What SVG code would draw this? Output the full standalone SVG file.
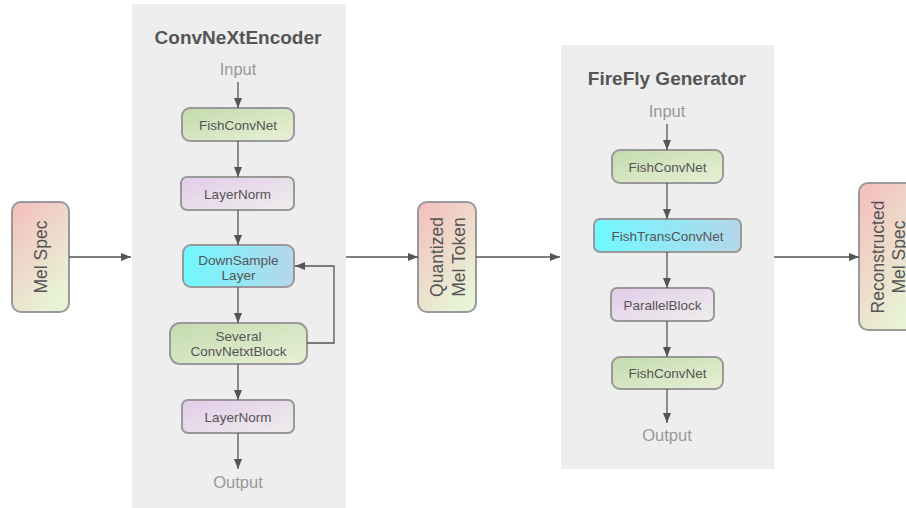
<svg xmlns="http://www.w3.org/2000/svg" width="906" height="508" viewBox="0 0 906 508">
<defs>
<linearGradient id="gGreen" x1="0" y1="0" x2="1" y2="1"><stop offset="0" stop-color="#c3dbae"/><stop offset="1" stop-color="#e8f0d6"/></linearGradient>
<linearGradient id="gPurple" x1="0" y1="0" x2="1" y2="1"><stop offset="0" stop-color="#e3cbea"/><stop offset="1" stop-color="#eeeeec"/></linearGradient>
<linearGradient id="gCyan" x1="0" y1="0" x2="1" y2="0"><stop offset="0" stop-color="#6ff8ff"/><stop offset="1" stop-color="#b5d7ea"/></linearGradient>
<linearGradient id="gPink" x1="0" y1="0" x2="0.6" y2="1"><stop offset="0" stop-color="#f4bdbd"/><stop offset="1" stop-color="#e8f3d6"/></linearGradient>
<marker id="arr" markerUnits="userSpaceOnUse" markerWidth="11" markerHeight="10" refX="10" refY="5" orient="auto"><path d="M0,1 L10,5 L0,9 z" fill="#555"/></marker>
</defs>
<style>
.panel{fill:#eeeeee}
.box{stroke:#999;stroke-width:2}
.t{font-family:"Liberation Sans",Arial,sans-serif;font-size:13.5px;fill:#555;text-anchor:middle}
.big{font-family:"Liberation Sans",Arial,sans-serif;font-size:17.5px;fill:#555;text-anchor:middle}
.io{font-family:"Liberation Sans",Arial,sans-serif;font-size:16.5px;fill:#999;text-anchor:middle}
.title{font-family:"Liberation Sans",Arial,sans-serif;font-size:19px;font-weight:bold;fill:#555;text-anchor:middle}
.c{fill:none;stroke:#555;stroke-width:1.3;marker-end:url(#arr)}
</style>
<rect width="906" height="508" fill="#ffffff"/>
<g id="encoder">
<rect class="panel" x="132" y="4" width="214" height="506"/>
<text class="title" x="238" y="44">ConvNeXtEncoder</text>
<text class="io" x="238" y="75">Input</text>
<text class="io" x="238" y="488">Output</text>
</g>
<g id="generator">
<rect class="panel" x="561" y="45" width="213" height="424"/>
<text class="title" x="667" y="85">FireFly Generator</text>
<text class="io" x="667" y="117">Input</text>
<text class="io" x="667" y="441">Output</text>
</g>
<g id="melspec">
<rect class="box" x="12" y="202" width="57" height="110" rx="9" fill="url(#gPink)"/>
<text class="big" transform="translate(40.5,257) rotate(-90)" x="0" y="6.5">Mel Spec</text>
</g>
<g id="quantized">
<rect class="box" x="418" y="202" width="58" height="110" rx="9" fill="url(#gPink)"/>
<text class="big" transform="translate(447,257) rotate(-90)"><tspan x="0" y="-4">Quantized</tspan><tspan x="0" y="17.5">Mel Token</tspan></text>
</g>
<g id="reconstructed">
<rect class="box" x="859" y="183" width="58" height="147" rx="9" fill="url(#gPink)"/>
<text class="big" transform="translate(887.5,257) rotate(-90)"><tspan x="0" y="-3.5">Reconstructed</tspan><tspan x="0" y="17.5">Mel Spec</tspan></text>
</g>
<g id="enc-fishconvnet">
<rect class="box" x="182" y="108" width="112" height="33" rx="8" fill="url(#gGreen)"/>
<text class="t" x="238" y="129.5">FishConvNet</text>
</g>
<g id="enc-layernorm1">
<rect class="box" x="181" y="177" width="113" height="33" rx="6" fill="url(#gPurple)"/>
<text class="t" x="237.5" y="198.5">LayerNorm</text>
</g>
<g id="enc-downsample">
<rect class="box" x="183" y="245" width="111" height="42" rx="8" fill="url(#gCyan)"/>
<text class="t" x="238.5" y="265">DownSample</text>
<text class="t" x="238.5" y="279.5">Layer</text>
</g>
<g id="enc-several">
<rect class="box" x="170" y="323" width="137" height="41" rx="10" fill="url(#gGreen)"/>
<text class="t" x="238.5" y="341">Several</text>
<text class="t" x="238.5" y="356">ConvNetxtBlock</text>
</g>
<g id="enc-layernorm2">
<rect class="box" x="182" y="400" width="112" height="33" rx="6" fill="url(#gPurple)"/>
<text class="t" x="238" y="421.5">LayerNorm</text>
</g>
<g id="gen-fishconvnet1">
<rect class="box" x="612" y="150" width="111" height="33" rx="8" fill="url(#gGreen)"/>
<text class="t" x="667.5" y="171.5">FishConvNet</text>
</g>
<g id="gen-fishtransconvnet">
<rect class="box" x="594" y="219" width="147" height="33" rx="6" fill="url(#gCyan)"/>
<text class="t" x="667.5" y="240.5">FishTransConvNet</text>
</g>
<g id="gen-parallelblock">
<rect class="box" x="611" y="288" width="103" height="33" rx="6" fill="url(#gPurple)"/>
<text class="t" x="662.5" y="309.5">ParallelBlock</text>
</g>
<g id="gen-fishconvnet2">
<rect class="box" x="612" y="357" width="111" height="32" rx="8" fill="url(#gGreen)"/>
<text class="t" x="667.5" y="378">FishConvNet</text>
</g>
<g id="connectors">
<path class="c" d="M69,257 H131"/>
<path class="c" d="M238,82 V108"/>
<path class="c" d="M238,141 V177"/>
<path class="c" d="M238,210 V245"/>
<path class="c" d="M238,287 V323"/>
<path class="c" d="M238,364 V400"/>
<path class="c" d="M307,343 H334 V266 H295"/>
<path class="c" d="M238,433 V469"/>
<path class="c" d="M346,257 H418"/>
<path class="c" d="M476,257 H560"/>
<path class="c" d="M667,124 V150"/>
<path class="c" d="M667,183 V219"/>
<path class="c" d="M667,252 V288"/>
<path class="c" d="M667,321 V357"/>
<path class="c" d="M667,389 V423"/>
<path class="c" d="M774,257 H859"/>
</g>
</svg>
